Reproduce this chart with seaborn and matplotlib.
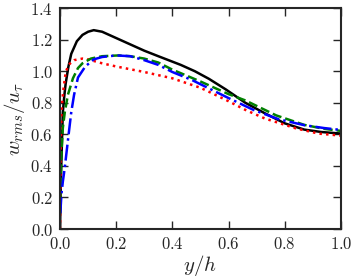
import numpy as np
import pandas as pd
import matplotlib
matplotlib.use("Agg")
import matplotlib.pyplot as plt
from matplotlib.ticker import FuncFormatter, MultipleLocator
import seaborn as sns

# profiles: w_rms/u_tau against y/h
black_x = [0.0, 0.003, 0.006, 0.01, 0.015, 0.02, 0.03, 0.04, 0.06, 0.08, 0.1, 0.12, 0.15, 0.2, 0.25,
           0.3, 0.35, 0.43, 0.48, 0.53, 0.59, 0.66, 0.73, 0.8, 0.87, 0.93, 1.0]
black_y = [0.0, 0.3, 0.5, 0.74, 0.84, 0.92, 1.03, 1.11, 1.19, 1.23, 1.25, 1.26, 1.25, 1.21, 1.17,
           1.13, 1.095, 1.04, 1.0, 0.952, 0.885, 0.8, 0.733, 0.67, 0.63, 0.615, 0.605]

red_x = [0.0, 0.002, 0.005, 0.011, 0.02, 0.03, 0.05, 0.08, 0.1, 0.15, 0.2, 0.3, 0.4, 0.5, 0.53,
         0.6, 0.66, 0.73, 0.84, 0.92, 1.0]
red_y = [0.0, 0.45, 0.74, 0.87, 0.99, 1.04, 1.07, 1.08, 1.075, 1.05, 1.03, 0.995, 0.955, 0.895, 0.87,
         0.81, 0.755, 0.7, 0.638, 0.605, 0.592]

green_x = [0.0, 0.004, 0.01, 0.017, 0.028, 0.046, 0.064, 0.08, 0.11, 0.15, 0.21, 0.25, 0.3, 0.35, 0.4,
           0.5, 0.6, 0.66, 0.77, 0.87, 0.94, 1.0]
green_y = [0.1, 0.45, 0.64, 0.74, 0.85, 0.955, 1.02, 1.05, 1.08, 1.095, 1.1, 1.095, 1.08, 1.055, 1.01,
           0.935, 0.855, 0.815, 0.72, 0.66, 0.635, 0.622]

blue_x = [0.001, 0.005, 0.01, 0.017, 0.028, 0.04, 0.05, 0.064, 0.09, 0.12, 0.15, 0.2, 0.25, 0.3, 0.35,
          0.4, 0.47, 0.6, 0.69, 0.78, 0.87, 0.94, 1.0]
blue_y = [0.1, 0.22, 0.3, 0.39, 0.56, 0.74, 0.85, 0.96, 1.03, 1.075, 1.09, 1.1, 1.095, 1.07, 1.04,
          0.995, 0.944, 0.83, 0.754, 0.695, 0.658, 0.64, 0.628]

sns.set_style("ticks")
plt.rcParams["mathtext.fontset"] = "cm"
plt.rcParams["font.family"] = ["DejaVu Serif"]

fig = plt.figure(figsize=(3.51, 2.78), dpi=100)
ax = fig.add_axes([0.171, 0.176, 0.8, 0.795])

lw = 1.8
sns.lineplot(x=black_x, y=black_y, ax=ax, color="black", lw=lw, linestyle="-", sort=False)
sns.lineplot(x=red_x, y=red_y, ax=ax, color="red", lw=lw, linestyle=":", sort=False)
sns.lineplot(x=green_x, y=green_y, ax=ax, color="green", lw=lw, linestyle="--", sort=False)
sns.lineplot(x=blue_x, y=blue_y, ax=ax, color="blue", lw=lw, linestyle="-.", sort=False)

ax.set_xlim(0, 1)
ax.set_ylim(0, 1.4)
ax.xaxis.set_major_locator(MultipleLocator(0.2))
ax.yaxis.set_major_locator(MultipleLocator(0.2))
fmt = FuncFormatter(lambda v, p: r"$%.1f$" % v)
ax.xaxis.set_major_formatter(fmt)
ax.yaxis.set_major_formatter(fmt)
ax.tick_params(direction="in", length=6, width=1, top=True, right=True, labelsize=12, pad=5)
for s in ax.spines.values():
    s.set_linewidth(1.5)
    s.set_visible(True)

ax.set_xlabel(r"$y/h$", fontsize=15, labelpad=0)
ax.set_ylabel(r"$w_{rms}/u_\tau$", fontsize=15, labelpad=2)

fig.savefig("out.png", dpi=100)
